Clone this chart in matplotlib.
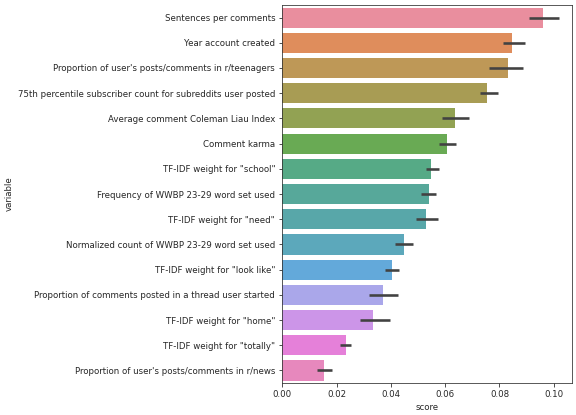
import numpy as np
import matplotlib
matplotlib.use("Agg")
import matplotlib.pyplot as plt
import seaborn as sns

# Data
variables = [
    "Sentences per comments",
    "Year account created",
    "Proportion of user's posts/comments in r/teenagers",
    "75th percentile subscriber count for subreddits user posted",
    "Average comment Coleman Liau Index",
    "Comment karma",
    'TF-IDF weight for "school"',
    "Frequency of WWBP 23-29 word set used",
    'TF-IDF weight for "need"',
    "Normalized count of WWBP 23-29 word set used",
    'TF-IDF weight for "look like"',
    "Proportion of comments posted in a thread user started",
    'TF-IDF weight for "home"',
    'TF-IDF weight for "totally"',
    "Proportion of user's posts/comments in r/news",
]
scores = [0.0962, 0.0847, 0.0831, 0.0755, 0.0637, 0.0605, 0.0548, 0.0542,
          0.0529, 0.0449, 0.0405, 0.0371, 0.0335, 0.0234, 0.0153]
ci_low = [0.0909, 0.0814, 0.0763, 0.0728, 0.0588, 0.0576, 0.0528, 0.0510,
          0.0492, 0.0416, 0.0378, 0.0320, 0.0285, 0.0212, 0.0129]
ci_high = [0.1020, 0.0894, 0.0888, 0.0793, 0.0688, 0.0640, 0.0579, 0.0566,
           0.0574, 0.0481, 0.0431, 0.0427, 0.0398, 0.0255, 0.0182]

# seaborn-like colours, a bit lighter like the reference
palette = []
for c in sns.husl_palette(len(variables)):
    c = np.array(sns.desaturate(c, 0.75))
    palette.append(tuple(c + (1 - c) * 0.1))

fig = plt.figure(figsize=(8, 415 / 72), dpi=72)
ax = fig.add_axes([0.490, 0.077, 0.503, 0.911])

ypos = np.arange(len(variables))
ax.barh(ypos, scores, height=0.8, color=palette)
ax.hlines(ypos, ci_low, ci_high, color=".26", linewidth=2.6)

ax.set_yticks(ypos)
ax.set_yticklabels(variables)
ax.set_ylim(len(variables) - 0.5, -0.5)
ax.set_xlim(0, 0.1067)
ax.set_xticks([0.0, 0.02, 0.04, 0.06, 0.08, 0.10])
ax.set_xticklabels(["0.00", "0.02", "0.04", "0.06", "0.08", "0.10"])
ax.tick_params(labelsize=8.6, colors="0.15", labelcolor="0.15")
for s in ax.spines.values():
    s.set_color("0.2")
ax.set_xlabel("score", fontsize=8.6, color="0.15")
ax.set_ylabel("variable", fontsize=8.6, color="0.15")

fig.savefig("out.png", dpi=72)
